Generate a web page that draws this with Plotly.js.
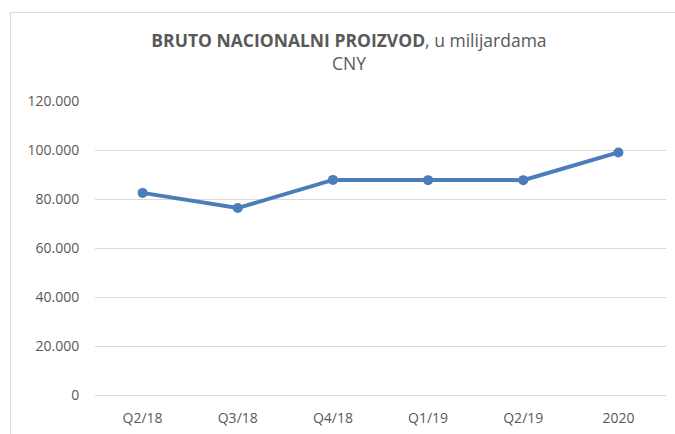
<!DOCTYPE html>
<html>
<head>
<meta charset="utf-8">
<script src="https://cdn.plot.ly/plotly-3.0.1.min.js"></script>
<style>
  html, body { margin: 0; padding: 0; background: #ffffff; overflow: hidden; }
  #wrap { position: relative; width: 675px; height: 434px; }
  #frame { position: absolute; left: 10px; top: 12px; width: 720px; height: 500px; border: 1px solid #d9d9d9; box-sizing: border-box; }
  #chart { position: absolute; left: 0; top: 0; width: 675px; height: 434px; }
</style>
</head>
<body>
<div id="wrap">
  <div id="frame"></div>
  <div id="chart"></div>
</div>
<script>
const categories = ["Q2/18", "Q3/18", "Q4/18", "Q1/19", "Q2/19", "2020"];
const gdpValues = [82500, 76300, 87800, 87700, 87700, 99000];
const yTickValues = [0, 20000, 40000, 60000, 80000, 100000, 120000];

const trace = {
  x: categories,
  y: gdpValues,
  type: "scatter",
  mode: "lines+markers",
  line: { color: "#4a7ebb", width: 4 },
  marker: { color: "#4a7ebb", size: 10 },
  hoverinfo: "x+y"
};

const font = "'Open Sans', 'Liberation Sans', sans-serif";

const layout = {
  width: 675,
  height: 434,
  margin: { l: 95, r: 9, t: 101, b: 39 },
  paper_bgcolor: "rgba(0,0,0,0)",
  plot_bgcolor: "rgba(0,0,0,0)",
  separators: ",.",
  showlegend: false,
  font: { family: font, color: "#595959", size: 14 },
  title: {
    text: "<b>BRUTO NACIONALNI PROIZVOD</b>, u milijardama<br>CNY",
    font: { family: font, size: 17.5, color: "#595959" },
    xref: "container",
    yref: "container",
    x: 0.517,
    xanchor: "center",
    y: 1 - 47 / 434,
    yanchor: "top"
  },
  xaxis: {
    type: "category",
    range: [-0.5, 5.5],
    showgrid: false,
    showline: true,
    linecolor: "#d9d9d9",
    linewidth: 1,
    ticks: "outside",
    ticklen: 10,
    tickcolor: "rgba(0,0,0,0)",
    tickfont: { family: font, size: 14, color: "#595959" },
    fixedrange: true
  },
  yaxis: {
    range: [0, 120000],
    tickvals: yTickValues,
    tickformat: ",d",
    showgrid: true,
    gridcolor: "#d9d9d9",
    gridwidth: 1,
    zeroline: false,
    showline: false,
    ticks: "outside",
    ticklen: 12,
    tickcolor: "rgba(0,0,0,0)",
    tickfont: { family: font, size: 14, color: "#595959" },
    fixedrange: true
  }
};

Plotly.newPlot("chart", [trace], layout, { displayModeBar: false, staticPlot: true });
</script>
</body>
</html>
